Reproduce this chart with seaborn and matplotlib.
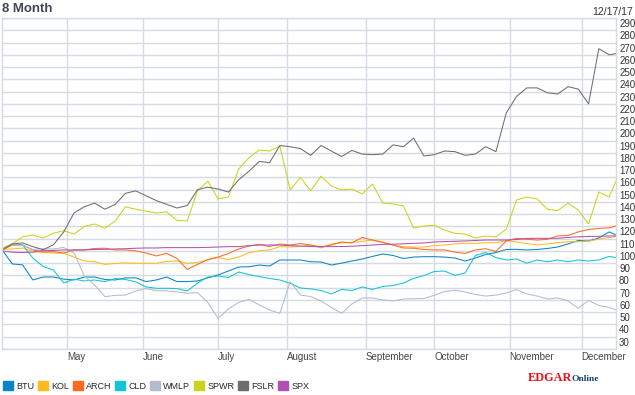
import pandas as pd
import matplotlib.pyplot as plt
import matplotlib.transforms as mtransforms
import matplotlib.patches as mpatches
import seaborn as sns

# x = trading-day index of the 8 month window (0 = first day, 179 = 12/15/17)
day = list(range(0, 178, 3)) + [179]

month_labels = ['May', 'June', 'July', 'August', 'September', 'October', 'November', 'December']
month_start = [19, 41, 63, 83, 106, 126, 148, 169]

tickers = ['BTU', 'KOL', 'ARCH', 'CLD', 'WMLP', 'SPWR', 'FSLR', 'SPX']
colors = ['#0a84c8', '#ffbb1c', '#ff6a22', '#12c4d4', '#b4bccb', '#c9d41a', '#6c6e70', '#b250b4']

# indexed performance (start = 100)
btu = [101, 89.4, 88.6, 76.3, 78.7, 78.7, 77, 76.3, 78.7, 78.7,
       76.7, 76.3, 78, 78, 75, 76.3, 78.7, 75, 75, 75.5,
       78, 80.4, 83.6, 86.9, 87.1, 88.5, 87.7, 92.6, 92.6, 92.6,
       91.2, 91, 88.5, 90, 91.8, 93.4, 95.5, 97.5, 96.3, 93.8,
       95, 95.3, 95.3, 95, 94.2, 91.8, 94.2, 97.1, 98.7, 101.2,
       101.3, 100.8, 101.2, 102, 103.2, 105.7, 108.5, 108.1, 110.6, 115.5,
       113]
kol = [101.3, 101.6, 102.4, 99.6, 98.7, 98.3, 98.1, 95, 91.8, 91.2,
       89, 89.8, 90.2, 89.9, 89.9, 89.9, 91.4, 91.8, 89.9, 90.6,
       92.6, 94.6, 93, 95, 98.5, 100.2, 100.8, 103.5, 103.2, 103.6,
       104.8, 102.4, 105.7, 106.5, 106.9, 107.8, 108.9, 107.3, 104.8, 103.5,
       103, 103.2, 104.3, 104.8, 105.7, 106.2, 106.2, 106.7, 106.7, 108.3,
       107.3, 106, 104.8, 105.7, 106.7, 107.5, 107.5, 107.9, 109.7, 111,
       111.6]
arch = [101, 104.6, 104.8, 100.8, 99.1, 99.4, 98.3, 100.8, 100.8, 102,
        102.2, 100.8, 100.8, 100, 98.3, 95.9, 98.1, 93.9, 84.9, 89,
        93, 95, 97.9, 101.6, 104, 105.4, 103.6, 105.7, 104.8, 106,
        104.8, 103.2, 104.8, 107.3, 106.5, 111, 108.9, 106.9, 104.8, 102.4,
        102.2, 101.2, 100.8, 100.8, 99.1, 97.9, 100.8, 101.8, 99.6, 108.1,
        110.3, 109.5, 108.9, 109.5, 112.2, 112.6, 115.5, 117.5, 118.4, 118.8,
        120.4]
cld = [101, 106, 105, 94.2, 87.3, 84.4, 73.8, 77, 75.5, 76.3,
       75, 77.5, 76.7, 74.7, 70.6, 69.5, 69.5, 69.3, 67.3, 73.8,
       78.7, 79.6, 78.3, 82.8, 80.7, 79.1, 77.5, 76.3, 73.6, 69.8,
       69, 67.7, 64.9, 68.6, 67.7, 70.6, 68.6, 71, 71.8, 73.8,
       77.6, 79.9, 83.2, 83.6, 80.1, 82, 96.3, 98.7, 94.6, 92.6,
       93.4, 90, 92.6, 91.2, 92.6, 91.2, 92.6, 91.8, 92.6, 95.5,
       94.6]
wmlp = [102, 105, 104.8, 101.2, 101.8, 101.6, 102.8, 98.3, 79.6, 72.2,
        62.7, 63.8, 64, 67.3, 69.3, 67.5, 67.5, 66.5, 65.4, 66,
        58, 45, 52.6, 58, 60.4, 56, 51.8, 49.1, 74.9, 64,
        62.8, 59.2, 53.9, 49.1, 56.7, 61.6, 61.6, 60, 59.2, 60.8,
        61, 61.2, 63.8, 66.9, 67.9, 66.5, 64.5, 63.2, 64, 65.7,
        68.5, 64.9, 63.2, 60.8, 61.6, 59.2, 53.2, 59.6, 55.5, 54,
        51.8]
spwr = [102.4, 105.7, 111.5, 113, 110.5, 114.5, 116.5, 113.7, 120, 122,
        118.5, 124.4, 136, 134, 132.5, 131, 131.8, 125, 124.4, 149,
        157, 142.4, 144, 166.8, 176, 182.3, 181.5, 185.6, 149.7, 160,
        149, 161, 153, 149.7, 150.5, 146.5, 154.6, 139, 138.3, 136.7,
        118.7, 120.3, 121, 117, 114.4, 113.8, 110.6, 112.2, 111.4, 117.8,
        141.5, 144, 142.4, 134, 132.8, 139, 133.4, 122, 148, 144,
        157]
fslr = [100.8, 105.7, 106.5, 103.5, 101, 105, 115.5, 131, 136, 139,
        134, 138, 147, 149, 145, 141, 138, 135, 137, 150,
        152, 150.5, 148, 158, 165, 173, 172, 186, 185, 183.5,
        178, 186, 181.5, 177, 182, 179, 178.5, 179, 186.5, 185,
        192, 177.5, 178.5, 181.5, 181, 178, 179, 185, 181, 212.5,
        226, 233, 233, 229, 228, 234, 232, 220, 265, 260,
        261]
spx = [100, 99, 98.7, 99, 100.4, 100.4, 100.8, 100.8, 100.8, 101.2,
       101.3, 101.6, 101.8, 102.2, 102.4, 102.4, 102.7, 102.7, 102.7, 102.7,
       102.9, 103.2, 103.5, 103.5, 104.3, 104.8, 104.8, 104.8, 104.3, 104,
       103.6, 103.5, 103.5, 103.6, 103.8, 104.3, 104.8, 105.3, 105.5, 105.8,
       106.2, 106.5, 107.3, 107.6, 107.9, 108.1, 108.5, 108.9, 108.9, 108.9,
       109.3, 110.2, 110.3, 110.3, 110.3, 111, 111.5, 111.8, 111.9, 112.2,
       112.2]

series = dict(zip(tickers, [btu, kol, arch, cld, wmlp, spwr, fslr, spx]))
df = pd.concat([pd.DataFrame({'day': day, 'value': v, 'ticker': t}) for t, v in series.items()],
               ignore_index=True)

sns.set_style('white')
plt.rcParams['font.family'] = ['Liberation Sans', 'DejaVu Sans']

GRID = '#d5dbe4'
W, H = 635, 395
fig = plt.figure(figsize=(W / 100, H / 100), dpi=100)
ax = fig.add_axes([2 / W, 1 - 349 / H, 614 / W, 331 / H])

sns.lineplot(data=df, x='day', y='value', hue='ticker', hue_order=tickers,
             palette=colors, estimator=None, sort=False, linewidth=0.75,
             legend=False, ax=ax)

ax.set_xlim(0, 179)
ax.set_ylim(20, 290)
ax.set_xlabel('')
ax.set_ylabel('')

# grid
yticks = list(range(20, 300, 10))
ax.set_yticks(yticks)
ax.set_yticklabels([])
ax.set_xticks(month_start)
ax.set_xticklabels(month_labels)
ax.grid(True, color=GRID, linewidth=1)
for s in ax.spines.values():
    s.set_color(GRID)
    s.set_linewidth(1)
ax.tick_params(axis='both', length=0)
ax.tick_params(axis='x', pad=2, labelsize=7, labelcolor='#444444')
for lbl in ax.get_xticklabels():
    lbl.set_ha('left')

# right-hand value labels, drawn just under their grid line
off = mtransforms.ScaledTranslation(0, -0.06, fig.dpi_scale_trans)
ytrans = ax.get_yaxis_transform() + off
for v in yticks[1:]:
    ax.text(1.005, v, str(v), transform=ytrans, ha='left', va='center',
            fontsize=7, color='#333333', clip_on=False)

fig.text(2 / W, 1 - 9 / H, '8 Month', fontsize=9.5, fontweight='bold',
         color='#3d4659', ha='left', va='center')
fig.text(633 / W, 1 - 12 / H, '12/17/17', fontsize=7.5, color='#333333',
         ha='right', va='center')

handles = [mpatches.Patch(color=c) for c in colors]
fig.legend(handles, tickers, loc='center left', bbox_to_anchor=(3 / W, 1 - 386 / H),
           ncol=8, frameon=False, fontsize=6.5, handlelength=1.1, handleheight=1.1,
           handletextpad=0.33, columnspacing=0.45, borderaxespad=0, borderpad=0)

fig.text(528 / W, 1 - 381 / H, 'EDGAR', fontsize=8.8, fontweight='bold',
         family='Liberation Serif', color='#e3151b', ha='left', va='baseline')
fig.text(571 / W, 1 - 381 / H, 'Online', fontsize=6.8, fontweight='bold',
         family='Liberation Serif', color='#1b3f7f', ha='left', va='baseline')

fig.savefig('out.png', dpi=100)
